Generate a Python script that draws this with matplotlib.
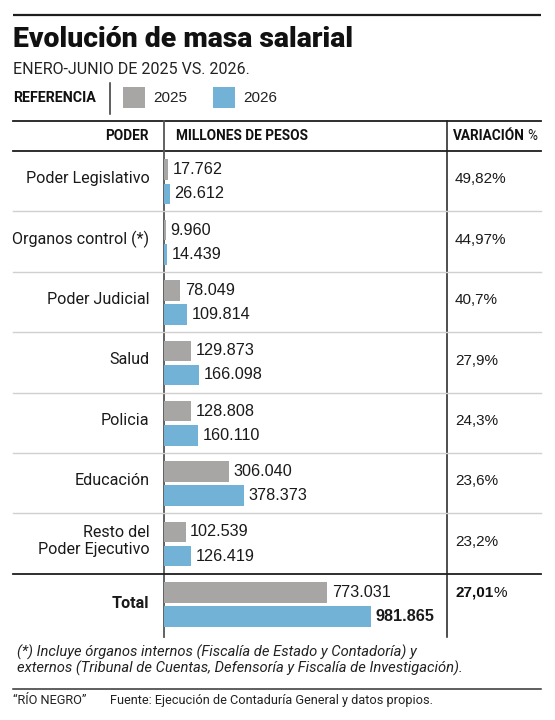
import matplotlib
matplotlib.use("Agg")
import matplotlib.pyplot as plt
from matplotlib.transforms import blended_transform_factory

# ---------------- data ----------------
categories = ["Poder Legislativo", "Organos control (*)", "Poder Judicial", "Salud",
              "Policia", "Educación", "Resto del\nPoder Ejecutivo", "Total"]
values_2025 = [17762, 9960, 78049, 129873, 128808, 306040, 102539, 773031]
values_2026 = [26612, 14439, 109814, 166098, 160110, 378373, 126419, 981865]
variation = ["49,82%", "44,97%", "40,7%", "27,9%", "24,3%", "23,6%", "23,2%", "27,01%"]
series_labels = ["2025", "2026"]

title = "Evolución de masa salarial"
subtitle = "ENERO-JUNIO DE 2025 VS. 2026."
footnote_lines = ["(*) Incluye órganos internos (Fiscalía de Estado y Contadoría) y",
                  "externos (Tribunal de Cuentas, Defensoría y Fiscalía de Investigación)."]
source_brand = "\u201cRÍO NEGRO\u201d"
source_text = "Fuente: Ejecución de Contaduría General y datos propios."

C_2025 = "#a8a6a5"
C_2026 = "#72b2d7"
DARK = "#1e1e1e"
LIGHT = "#d0d0d0"

F_TXT = "Roboto"
F_NUM = "Liberation Sans"


def fmt(v):
    return f"{v:,}".replace(",", ".")


W, H = 555, 720
fig = plt.figure(figsize=(W / 100, H / 100), dpi=100)
bg = fig.add_axes([0, 0, 1, 1])
bg.set_xlim(0, W)
bg.set_ylim(H, 0)
bg.axis("off")

L, R = 13, 541
# top rule
bg.plot([L, R], [15, 15], color=DARK, lw=1.6, solid_capstyle="butt")
# title & subtitle
bg.text(L, 47, title, family=F_TXT, weight="heavy", fontsize=20.4, color="#111111", va="baseline")
bg.text(L, 74.5, subtitle, family=F_TXT, fontsize=11.5, color="#222222", va="baseline")

# legend
bg.text(L, 98, "REFERENCIA", family=F_TXT, weight="bold", fontsize=10.3, color="#111111", va="center")
bg.plot([109.5, 109.5], [83, 114], color="#333333", lw=1.1)
leg_x = [123, 213]
for x0, lab, col in zip(leg_x, series_labels, [C_2025, C_2026]):
    bg.add_patch(plt.Rectangle((x0, 87), 22, 21, color=col, lw=0))
    bg.text(x0 + 30, 98, lab, family=F_NUM, fontsize=11, color="#222222", va="center")

# header row
bg.plot([L, R], [120.5, 120.5], color=DARK, lw=1.3)
bg.text(148.5, 136, "PODER", family=F_TXT, weight="bold", fontsize=9.8, color="#111111",
        ha="right", va="center")
bg.text(175.5, 136, "MILLONES DE PESOS", family=F_TXT, weight="bold", fontsize=9.8,
        color="#111111", ha="left", va="center")
t_var = bg.text(453, 136, "VARIACIÓN", family=F_TXT, weight="bold", fontsize=9.8,
                color="#111111", ha="left", va="center")
bg.annotate("%", xy=(1, 0.5), xycoords=t_var, xytext=(2.0, 0), textcoords="offset points",
            va="center", ha="left", family=F_TXT, fontsize=9.8, color="#111111")
bg.plot([L, R], [151, 151], color=DARK, lw=1.3)

# ---------------- table / bar axes ----------------
top_px, bot_px = 151, 634
x0_px, x1_px = 164, 446
ax = fig.add_axes([x0_px / W, 1 - bot_px / H, (x1_px - x0_px) / W, (bot_px - top_px) / H])
n = len(categories)
ax.set_xlim(0, 1_335_000)
ax.set_ylim(n, 0)
ax.axis("off")

bar_h = 0.34
y_gray = [i + 0.31 for i in range(n)]
y_blue = [i + 0.71 for i in range(n)]
ax.barh(y_gray, values_2025, height=bar_h, color=C_2025, lw=0)
ax.barh(y_blue, values_2026, height=bar_h, color=C_2026, lw=0)

for i in range(n):
    last = i == n - 1
    ax.annotate(fmt(values_2025[i]), xy=(values_2025[i], y_gray[i]), xytext=(3.3, 0),
                textcoords="offset points", va="center", ha="left", family=F_NUM,
                fontsize=11.7, color="#1a1a1a")
    ax.annotate(fmt(values_2026[i]), xy=(values_2026[i], y_blue[i]), xytext=(3.3, 0),
                textcoords="offset points", va="center", ha="left", family=F_NUM,
                fontsize=11.7, color="#1a1a1a", weight="bold" if last else "normal")

# separators & dividers in table area, in pixel x / row y
tr = blended_transform_factory(bg.transData, ax.transData)
for i in range(1, n - 1):
    ax.plot([L, R], [i, i], transform=tr, color=LIGHT, lw=1.0, clip_on=False)
ax.plot([L, R], [n - 1, n - 1], transform=tr, color=DARK, lw=1.3, clip_on=False)

# category labels & variation
for i, (cat, var) in enumerate(zip(categories, variation)):
    last = i == n - 1
    yc = i + 0.5 if last else i + 0.46
    ax.text(149.5, yc, cat, transform=tr, family=F_TXT, fontsize=11.6,
            weight="bold" if last else "normal", color="#1a1a1a",
            ha="right", va="center", multialignment="right", linespacing=1.2)
    if last:
        tv = ax.text(455, i + 0.32, var[:-1], transform=tr, family=F_NUM, fontsize=11,
                     weight="bold", color="#111111", ha="left", va="center")
        ax.annotate("%", xy=(1, 0.5), xycoords=tv, va="center", ha="left",
                    family=F_NUM, fontsize=11, color="#111111")
    else:
        ax.text(455, i + 0.47, var, transform=tr, family=F_NUM, fontsize=11,
                color="#1a1a1a", ha="left", va="center")

# vertical dividers (pixel coords)
bg.plot([164, 164], [120.5, 637], color="#555555", lw=1.3)
bg.plot([446.5, 446.5], [120.5, 637], color=DARK, lw=1.1)

# footnote
for k, line in enumerate(footnote_lines):
    bg.text(17, 656.5 + 16.5 * k, line, family=F_TXT, style="italic", fontsize=10.6,
            color="#222222", va="baseline", ha="left")

bg.plot([L, R], [689, 689], color="#333333", lw=1.1)
bg.text(L, 704, source_brand, family=F_TXT, fontsize=9.2, color="#222222", va="baseline")
bg.text(110, 704, source_text, family=F_TXT, fontsize=9.2, color="#222222", va="baseline")

fig.savefig("out.png", dpi=100, facecolor="white")
